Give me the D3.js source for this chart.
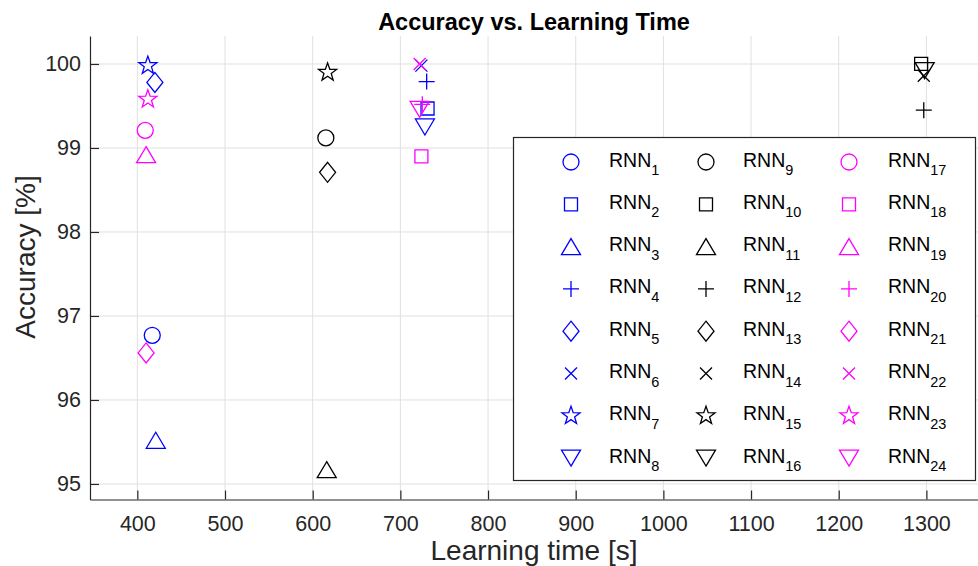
<!DOCTYPE html>
<html>
<head>
<meta charset="utf-8">
<script src="https://cdn.jsdelivr.net/npm/d3@7"></script>
<style>
  body { margin: 0; background: #fff; }
  svg { font-family: "Liberation Sans", Arial, Helvetica, sans-serif; }
  .axis path, .axis line { stroke: #262626; stroke-width: 1.2; }
  .axis text { fill: #262626; font-size: 21.5px; }
  .grid line { stroke: #e0e0e0; stroke-width: 1; }
</style>
</head>
<body>
<div id="chart"></div>
<script>
// RNN index, learning time [s] and accuracy [%]
var rnnIds = [1, 2, 3, 4, 5, 6, 7, 8, 9, 10, 11, 12, 13, 14, 15, 16, 17, 18, 19, 20, 21, 22, 23, 24];
var learnTime = [417, 731, 421, 730, 420, 724, 412, 728,
                 615, 1294, 616, 1297, 617, 1297, 617, 1298,
                 409, 724, 410, 725, 410, 722, 412, 722];
var accuracy = [96.77, 99.47, 95.52, 99.79, 99.78, 99.98, 99.98, 99.25,
                99.12, 100.0, 95.17, 99.45, 98.71, 99.86, 99.90, 99.92,
                99.21, 98.90, 98.92, 99.52, 96.56, 100.0, 99.58, 99.46];
var markerKinds = ["circle", "square", "triangle", "plus", "diamond", "cross", "star", "down"];
var groupColors = ["#0000ff", "#000000", "#ff00ff"];
var xTicks = [400, 500, 600, 700, 800, 900, 1000, 1100, 1200, 1300];
var yTicks = [95, 96, 97, 98, 99, 100];

var W = 978, H = 566;
var mLeft = 90, mRight = 979, mTop = 36, mBottom = 499.5;

var svg = d3.select("#chart").append("svg")
  .attr("width", W).attr("height", H);

var x = d3.scaleLinear().domain([346, 1360]).range([mLeft, mRight]);
var y = d3.scaleLinear().domain([94.815, 100.333]).range([mBottom, mTop]);

// grid
svg.append("g").attr("class", "grid")
  .selectAll("line.v").data(xTicks).enter().append("line")
  .attr("x1", function (d) { return x(d); }).attr("x2", function (d) { return x(d); })
  .attr("y1", mTop).attr("y2", mBottom);
svg.append("g").attr("class", "grid")
  .selectAll("line.h").data(yTicks).enter().append("line")
  .attr("x1", mLeft).attr("x2", W)
  .attr("y1", function (d) { return y(d); }).attr("y2", function (d) { return y(d); });

// axes, ticks pointing inward like matlab
svg.append("g").attr("class", "axis")
  .attr("transform", "translate(0," + mBottom + ")")
  .call(d3.axisBottom(x).tickValues(xTicks).tickFormat(d3.format("d"))
    .tickSizeInner(-9).tickSizeOuter(0).tickPadding(16));
svg.append("g").attr("class", "axis")
  .attr("transform", "translate(" + mLeft + ",0)")
  .call(d3.axisLeft(y).tickValues(yTicks).tickFormat(d3.format("d"))
    .tickSizeInner(-9).tickSizeOuter(0).tickPadding(9));

// marker shapes centred on 0,0
function markerPath(kind) {
  var p = d3.path();
  if (kind == "circle") {
    p.moveTo(8, 0); p.arc(0, 0, 8, 0, 2 * Math.PI);
  } else if (kind == "square") {
    p.rect(-6.5, -6.5, 13, 13);
  } else if (kind == "triangle") {
    p.moveTo(0, -8); p.lineTo(9.5, 8); p.lineTo(-9.5, 8); p.closePath();
  } else if (kind == "down") {
    p.moveTo(0, 8); p.lineTo(9.5, -8); p.lineTo(-9.5, -8); p.closePath();
  } else if (kind == "diamond") {
    p.moveTo(0, -10); p.lineTo(8, 0); p.lineTo(0, 10); p.lineTo(-8, 0); p.closePath();
  } else if (kind == "plus") {
    p.moveTo(-8, 0); p.lineTo(8, 0); p.moveTo(0, -8); p.lineTo(0, 8);
  } else if (kind == "cross") {
    p.moveTo(-6, -6); p.lineTo(6, 6); p.moveTo(6, -6); p.lineTo(-6, 6);
  } else if (kind == "star") {
    for (var k = 0; k < 10; k++) {
      var r = k % 2 == 0 ? 9.5 : 3.8;
      var a = -Math.PI / 2 + k * Math.PI / 5;
      if (k == 0) p.moveTo(r * Math.cos(a), r * Math.sin(a));
      else p.lineTo(r * Math.cos(a), r * Math.sin(a));
    }
    p.closePath();
  }
  return p.toString();
}

function kindOf(i) { return markerKinds[i % 8]; }
function colorOf(i) { return groupColors[Math.floor(i / 8)]; }

// data points
svg.append("g").selectAll("path.pt").data(rnnIds).enter().append("path")
  .attr("class", "pt")
  .attr("transform", function (d, i) { return "translate(" + x(learnTime[i]) + "," + y(accuracy[i]) + ")"; })
  .attr("d", function (d, i) { return markerPath(kindOf(i)); })
  .attr("fill", "none")
  .attr("stroke", function (d, i) { return colorOf(i); })
  .attr("stroke-width", 1.3);

// legend
var lg = svg.append("g");
lg.append("rect")
  .attr("x", 513.5).attr("y", 137.5).attr("width", 462).attr("height", 343)
  .attr("fill", "#fff").attr("stroke", "#262626").attr("stroke-width", 1.2);

var colMarkerX = [571, 706, 849];
var colTextX = [609, 743, 888];
var rowY0 = 162, rowStep = 42.3;

var item = lg.selectAll("g.item").data(rnnIds).enter().append("g")
  .attr("class", "item");
item.append("path")
  .attr("transform", function (d, i) {
    return "translate(" + colMarkerX[Math.floor(i / 8)] + "," + (rowY0 + (i % 8) * rowStep) + ")";
  })
  .attr("d", function (d, i) { return markerPath(kindOf(i)); })
  .attr("fill", "none")
  .attr("stroke", function (d, i) { return colorOf(i); })
  .attr("stroke-width", 1.3);
var lt = item.append("text")
  .attr("x", function (d, i) { return colTextX[Math.floor(i / 8)]; })
  .attr("y", function (d, i) { return rowY0 + (i % 8) * rowStep + 4.5; })
  .attr("fill", "#000")
  .style("font-size", "19.5px");
lt.append("tspan").text("RNN");
lt.append("tspan").attr("dy", 8.5).style("font-size", "14.5px").text(function (d) { return d; });

// title and labels
svg.append("text")
  .attr("x", (mLeft + W) / 2).attr("y", 30)
  .attr("text-anchor", "middle")
  .style("font-size", "23.5px").style("font-weight", "bold")
  .attr("fill", "#000")
  .text("Accuracy vs. Learning Time");

svg.append("text")
  .attr("x", (mLeft + W) / 2).attr("y", 560)
  .attr("text-anchor", "middle")
  .style("font-size", "28px")
  .attr("fill", "#262626")
  .text("Learning time [s]");

svg.append("text")
  .attr("transform", "translate(35,257) rotate(-90)")
  .attr("text-anchor", "middle")
  .style("font-size", "28px")
  .attr("fill", "#262626")
  .text("Accuracy [%]");
</script>
</body>
</html>
